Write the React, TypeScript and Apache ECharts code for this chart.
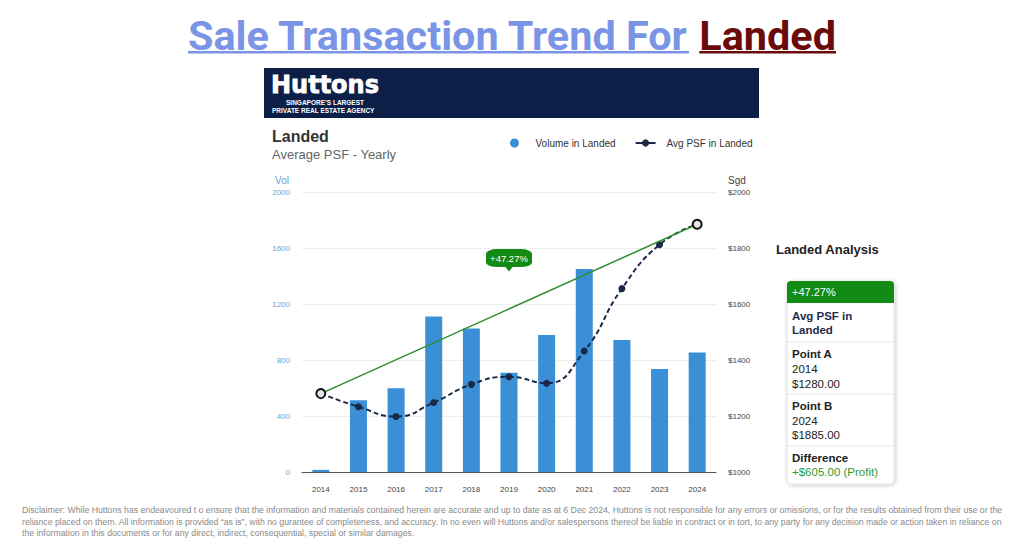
import React, { useEffect, useRef } from "react";
import * as echarts from "echarts";

const years = ["2014", "2015", "2016", "2017", "2018", "2019", "2020", "2021", "2022", "2023", "2024"];
const volume = [15, 512, 598, 1110, 1025, 709, 979, 1450, 943, 736, 853];
const avgPsf = [1280, 1233, 1198, 1248, 1313, 1340, 1317, 1432, 1655, 1812, 1885];
const volAxis = { min: 0, max: 2000, interval: 400 };
const psfAxis = { min: 1000, max: 2000, interval: 200 };

const titlePart1 = "Sale Transaction Trend For";
const titlePart2 = "Landed";
const disclaimerLines = [
  "Disclaimer: While Huttons has endeavoured t o ensure that the information and materials contained herein are accurate and up to date as at 6 Dec 2024, Huttons is not responsible for any errors or omissions, or for the results obtained from their use or the",
  "reliance placed on them. All information is provided \u201cas is\u201d, with no gurantee of completeness, and accuracy. In no even will Huttons and/or salespersons thereof be liable in contract or in tort, to any party for any decision made or action taken in reliance on",
  "the information in this documents or for any direct, indirect, consequential, special or similar damages.",
];

const FONT = "'Liberation Sans', Arial, Helvetica, sans-serif";

function measure(text: string, font: string): number {
  const c = document.createElement("canvas");
  const ctx = c.getContext("2d");
  if (!ctx) return text.length * 50;
  ctx.font = font;
  return ctx.measureText(text).width;
}

export default function App() {
  const ref = useRef<HTMLDivElement>(null);

  useEffect(() => {
    if (!ref.current) return;
    const chart = echarts.init(ref.current, undefined, { renderer: "svg" });

    const first = avgPsf[0];
    const last = avgPsf[avgPsf.length - 1];
    const diff = last - first;
    const pct = ((diff / first) * 100).toFixed(2);
    const pctText = `+${pct}%`;
    const trend = avgPsf.map((v, i) => (i === 0 || i === avgPsf.length - 1 ? v : null));

    // title sizing
    const tFam = "Roboto";
    const w1 = measure(titlePart1 + " ", `bold 100px ${tFam}`);
    const w1n = measure(titlePart1, `bold 100px ${tFam}`);
    const w2 = measure(titlePart2, `bold 100px ${tFam}`);
    const tLeft = 188;
    const tWidth = 648;
    const tSize = (tWidth * 100) / (w1 + w2);
    const x2 = tLeft + (w1 * tSize) / 100;
    const u1End = tLeft + (w1n * tSize) / 100;
    const u2End = x2 + (w2 * tSize) / 100;

    // disclaimer sizing
    const dw = measure(disclaimerLines[0], `100px ${FONT}`);
    const dSize = Math.min(10, (981 * 100) / dw);

    const blue1 = "#7b95e6";
    const darkRed = "#6a0a0a";
    const navy = "#0b1f47";
    const green = "#138a13";

    const panelX = 787;
    const panelY = 281;
    const panelW = 107;
    const panelH = 203;
    const tx = 792;

    const panelText = (text: string, y: number, opts: any = {}) => ({
      type: "text",
      style: {
        text,
        x: tx,
        y,
        fill: opts.fill || "#222",
        fontSize: 11.5,
        fontWeight: opts.bold ? "bold" : "normal",
        fontFamily: FONT,
        verticalAlign: "middle",
      },
      z: 20,
    });
    const sep = (y: number) => ({
      type: "line",
      shape: { x1: panelX, y1: y, x2: panelX + panelW, y2: y },
      style: { stroke: "#e6e6e6", lineWidth: 1 },
      z: 20,
    });

    const option: any = {
      animation: false,
      backgroundColor: "#ffffff",
      textStyle: { fontFamily: FONT },
      grid: { left: 302, right: 308, top: 192, bottom: 74 },
      legend: {
        left: 505,
        top: 133,
        itemWidth: 20,
        itemHeight: 9,
        itemGap: 19,
        textStyle: { fontSize: 10, color: "#333", padding: [0, 0, 0, 6], fontFamily: FONT },
        data: [
          { name: "Volume in Landed", icon: "circle" },
          { name: "Avg PSF in Landed", lineStyle: { type: "solid", width: 2 } },
        ],
      },
      xAxis: {
        type: "category",
        data: years,
        axisTick: { show: false },
        axisLine: { lineStyle: { color: "#555", width: 1 } },
        axisLabel: { fontSize: 8, color: "#444", margin: 13 },
      },
      yAxis: [
        {
          type: "value",
          min: volAxis.min,
          max: volAxis.max,
          interval: volAxis.interval,
          axisLine: { show: false },
          axisTick: { show: false },
          axisLabel: { fontSize: 8, color: "#6fa3d3", margin: 12, formatter: (v: number) => String(v) },
          splitLine: { lineStyle: { color: "#eeeeee" } },
        },
        {
          type: "value",
          min: psfAxis.min,
          max: psfAxis.max,
          interval: psfAxis.interval,
          axisLine: { show: false },
          axisTick: { show: false },
          axisLabel: { fontSize: 8, color: "#444", margin: 12, formatter: (v: number) => `$${v}` },
          splitLine: { show: false },
        },
      ],
      series: [
        {
          name: "Volume in Landed",
          type: "bar",
          yAxisIndex: 0,
          data: volume,
          barWidth: 17,
          itemStyle: { color: "#3a8fd6" },
          z: 2,
        },
        {
          name: "Avg PSF in Landed",
          type: "line",
          yAxisIndex: 1,
          data: avgPsf,
          smooth: true,
          symbol: "circle",
          symbolSize: 7,
          lineStyle: { color: "#1b2848", width: 2, type: [5, 3] },
          itemStyle: { color: "#1b2848" },
          z: 4,
        },
        {
          name: "Trend",
          type: "line",
          yAxisIndex: 1,
          data: trend,
          connectNulls: true,
          symbol: "circle",
          symbolSize: 9,
          lineStyle: { color: "#2f8f2f", width: 1.5 },
          itemStyle: { color: "#e6e6e6", borderColor: "#111", borderWidth: 2 },
          z: 6,
          silent: true,
          markPoint: {
            silent: true,
            data: [
              {
                coord: [years[5], 1764],
                symbol: "roundRect",
                symbolSize: [46, 18],
                itemStyle: { color: green, borderWidth: 0 },
                label: { show: true, formatter: pctText, color: "#fff", fontSize: 9.5, position: "inside" },
              },
              {
                coord: [years[5], 1764],
                symbol: "triangle",
                symbolRotate: 180,
                symbolSize: [8, 5],
                symbolOffset: [0, 11],
                itemStyle: { color: green, borderWidth: 0 },
                label: { show: false },
              },
            ],
          },
        },
      ],
      graphic: [
        // page title
        {
          type: "text",
          style: {
            text: titlePart1,
            x: tLeft,
            y: 36,
            fill: blue1,
            fontSize: tSize,
            fontWeight: "bold",
            fontFamily: tFam,
            verticalAlign: "middle",
          },
        },
        {
          type: "text",
          style: {
            text: titlePart2,
            x: x2,
            y: 36,
            fill: darkRed,
            fontSize: tSize,
            fontWeight: "bold",
            fontFamily: tFam,
            verticalAlign: "middle",
          },
        },
        { type: "rect", shape: { x: tLeft, y: 51, width: u1End - tLeft, height: 2.5 }, style: { fill: blue1 } },
        { type: "rect", shape: { x: x2, y: 51, width: u2End - x2, height: 2.5 }, style: { fill: darkRed } },
        // header band
        { type: "rect", shape: { x: 264, y: 68, width: 495, height: 50 }, style: { fill: navy } },
        {
          type: "text",
          style: {
            text: "Huttons",
            x: 271,
            y: 85,
            fill: "#fff",
            fontSize: 24,
            fontWeight: "bold",
            fontFamily: "'DejaVu Sans', sans-serif",
            verticalAlign: "middle",
            stroke: "#fff",
            lineWidth: 0.8,
          },
        },
        {
          type: "text",
          style: {
            text: "SINGAPORE\u2019S LARGEST",
            x: 325,
            y: 102,
            fill: "#fff",
            fontSize: 6.5,
            fontWeight: "bold",
            fontFamily: FONT,
            align: "center",
            verticalAlign: "middle",
          },
        },
        {
          type: "text",
          style: {
            text: "PRIVATE REAL ESTATE AGENCY",
            x: 272,
            y: 110,
            fill: "#fff",
            fontSize: 6.5,
            fontWeight: "bold",
            fontFamily: FONT,
            verticalAlign: "middle",
          },
        },
        // chart titles
        {
          type: "text",
          style: { text: "Landed", x: 272, y: 136, fill: "#333", fontSize: 16, fontWeight: "bold", fontFamily: FONT, verticalAlign: "middle" },
        },
        {
          type: "text",
          style: { text: "Average PSF - Yearly", x: 272, y: 154, fill: "#666", fontSize: 13, fontFamily: FONT, verticalAlign: "middle" },
        },
        {
          type: "text",
          style: { text: "Vol", x: 289, y: 180, fill: "#6fa3d3", fontSize: 10, fontFamily: FONT, align: "right", verticalAlign: "middle" },
        },
        {
          type: "text",
          style: { text: "Sgd", x: 728, y: 180, fill: "#444", fontSize: 10, fontFamily: FONT, verticalAlign: "middle" },
        },
        // analysis panel
        {
          type: "text",
          style: { text: "Landed Analysis", x: 776, y: 249, fill: "#222", fontSize: 13, fontWeight: "bold", fontFamily: FONT, verticalAlign: "middle" },
        },
        {
          type: "rect",
          shape: { x: panelX, y: panelY, width: panelW, height: panelH, r: 4 },
          style: { fill: "#fff", stroke: "#e2e2e2", lineWidth: 1, shadowBlur: 4, shadowColor: "rgba(0,0,0,0.2)", shadowOffsetX: 1, shadowOffsetY: 1 },
          z: 10,
        },
        {
          type: "rect",
          shape: { x: panelX, y: panelY, width: panelW, height: 22, r: [4, 4, 0, 0] },
          style: { fill: green },
          z: 15,
        },
        {
          type: "text",
          style: { text: pctText, x: tx, y: panelY + 11, fill: "#fff", fontSize: 11, fontFamily: FONT, verticalAlign: "middle" },
          z: 20,
        },
        panelText("Avg PSF in", 316, { bold: true, fill: "#1f2d4d" }),
        panelText("Landed", 330, { bold: true, fill: "#1f2d4d" }),
        sep(342),
        panelText("Point A", 354, { bold: true }),
        panelText(years[0], 369),
        panelText(`$${first.toFixed(2)}`, 384),
        sep(394),
        panelText("Point B", 406, { bold: true }),
        panelText(years[years.length - 1], 421),
        panelText(`$${last.toFixed(2)}`, 435),
        sep(446),
        panelText("Difference", 458, { bold: true }),
        panelText(`+$${diff.toFixed(2)} (Profit)`, 472, { fill: "#2f9a2f" }),
        // disclaimer
        ...disclaimerLines.map((t, i) => ({
          type: "text",
          style: { text: t, x: 22, y: 510 + i * 11.5, fill: "#8a8a8a", fontSize: dSize, fontFamily: FONT, verticalAlign: "middle" },
        })),
      ],
    };

    chart.setOption(option);
    return () => chart.dispose();
  }, []);

  return <div ref={ref} style={{ position: "absolute", left: 0, top: 0, width: 1024, height: 546 }} />;
}
